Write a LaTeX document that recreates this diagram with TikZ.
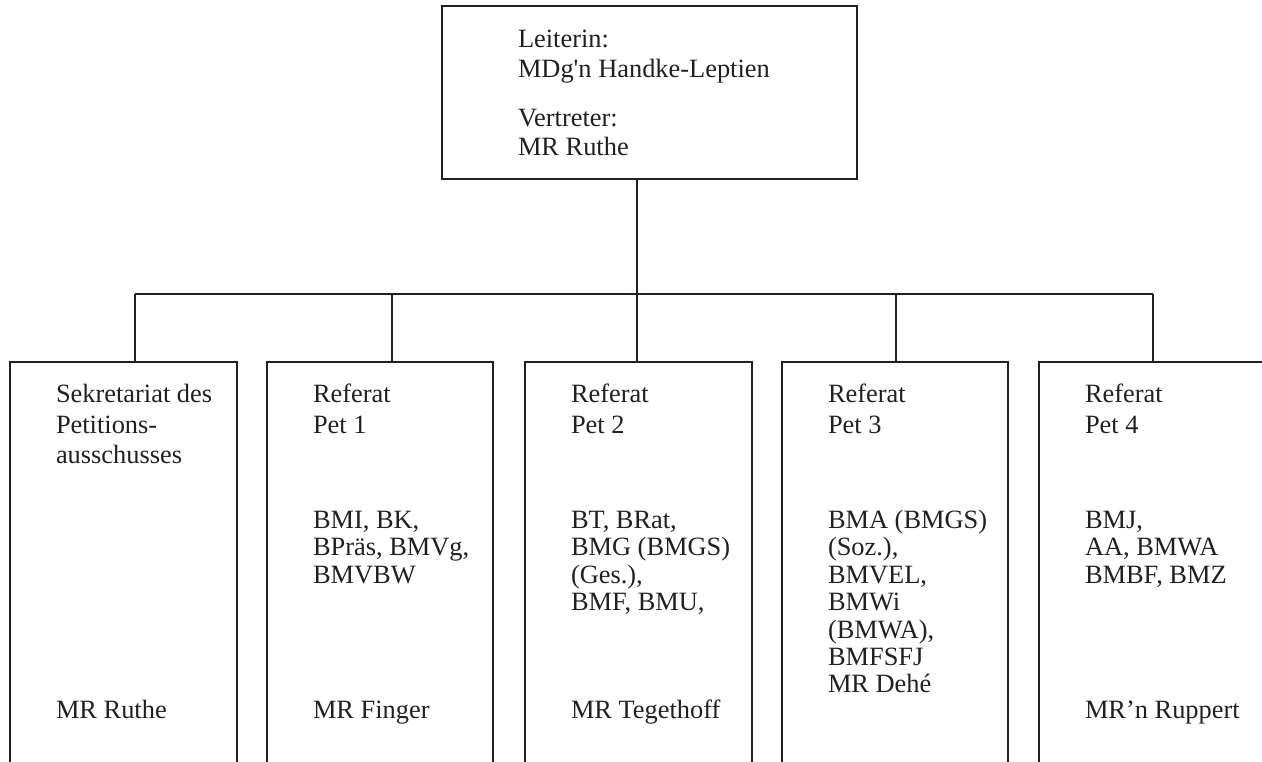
\documentclass[tikz,border=0pt]{standalone}
\usepackage{fontspec}
\setmainfont{Liberation Serif}[Ligatures=TeXOff]
\definecolor{ink}{RGB}{35,31,32}
\begin{document}
\begin{tikzpicture}[x=1pt,y=-1pt,
  box/.style={draw=ink, line width=1.6pt, inner sep=0pt, outer sep=0pt, anchor=north west, minimum height=460pt},
  lbl/.style={anchor=base west, inner sep=0pt, outer sep=0pt, font=\fontsize{26.4}{30}\selectfont, text=ink},
  conn/.style={draw=ink, line width=1.3pt}]
\useasboundingbox (0,0) rectangle (1262,761);
% top box
\node[box, minimum width=415pt, minimum height=173pt] (top) at (442,6) {};
\node[lbl] (tl1) at (518,47) {Leiterin:};
\node[lbl] (tl2) at (518,77) {MDg'n Handke-Leptien};
\node[lbl] (tl3) at (518,126) {Vertreter:};
\node[lbl] (tl4) at (518,155) {MR Ruthe};
% lower boxes
\node[box, minimum width=227pt] (b1) at (10,362) {};
\node[box, minimum width=226pt] (b2) at (267,362) {};
\node[box, minimum width=227pt] (b3) at (525,362) {};
\node[box, minimum width=226pt] (b4) at (782,362) {};
\node[box, minimum width=226pt] (b5) at (1039,362) {};
% junctions
\coordinate (j1) at (135,294);
\coordinate (j2) at (392,294);
\coordinate (j3) at (637,294);
\coordinate (j4) at (896,294);
\coordinate (j5) at (1153,294);
\draw[conn] (top.south -| j3) -- (j3);
\draw[conn] (j1) -- (j5);
\foreach \i in {1,...,5} {\draw[conn] (j\i) -- (j\i |- b\i.north);}
% box 1
\node[lbl] (a1) at (56,402) {Sekretariat des};
\node[lbl] (a2) at (56,433) {Petitions-};
\node[lbl] (a3) at (56,463) {ausschusses};
\node[lbl] (a4) at (56,718) {MR Ruthe};
% box 2
\node[lbl] (c1) at (313,402) {Referat};
\node[lbl] (c2) at (313,433) {Pet 1};
\node[lbl] (c3) at (313,528) {BMI, BK,};
\node[lbl] (c4) at (313,555.5) {BPräs, BMVg,};
\node[lbl] (c5) at (313,583) {BMVBW};
\node[lbl] (c6) at (313,718) {MR Finger};
% box 3
\node[lbl] (d1) at (571,402) {Referat};
\node[lbl] (d2) at (571,433) {Pet 2};
\node[lbl] (d3) at (571,528) {BT, BRat,};
\node[lbl] (d4) at (571,555.5) {BMG (BMGS)};
\node[lbl] (d5) at (571,583) {(Ges.),};
\node[lbl] (d6) at (571,610.5) {BMF, BMU,};
\node[lbl] (d7) at (571,718) {MR Tegethoff};
% box 4
\node[lbl] (e1) at (828,402) {Referat};
\node[lbl] (e2) at (828,433) {Pet 3};
\node[lbl] (e3) at (828,528) {BMA (BMGS)};
\node[lbl] (e4) at (828,555.5) {(Soz.),};
\node[lbl] (e5) at (828,583) {BMVEL,};
\node[lbl] (e6) at (828,610.5) {BMWi};
\node[lbl] (e7) at (828,638) {(BMWA),};
\node[lbl] (e8) at (828,665.5) {BMFSFJ};
\node[lbl] (e9) at (828,692) {MR Dehé};
% box 5
\node[lbl] (f1) at (1085,402) {Referat};
\node[lbl] (f2) at (1085,433) {Pet 4};
\node[lbl] (f3) at (1085,528) {BMJ,};
\node[lbl] (f4) at (1085,555.5) {AA, BMWA};
\node[lbl] (f5) at (1085,583) {BMBF, BMZ};
\node[lbl] (f6) at (1085,718) {MR’n Ruppert};
\end{tikzpicture}
\end{document}
